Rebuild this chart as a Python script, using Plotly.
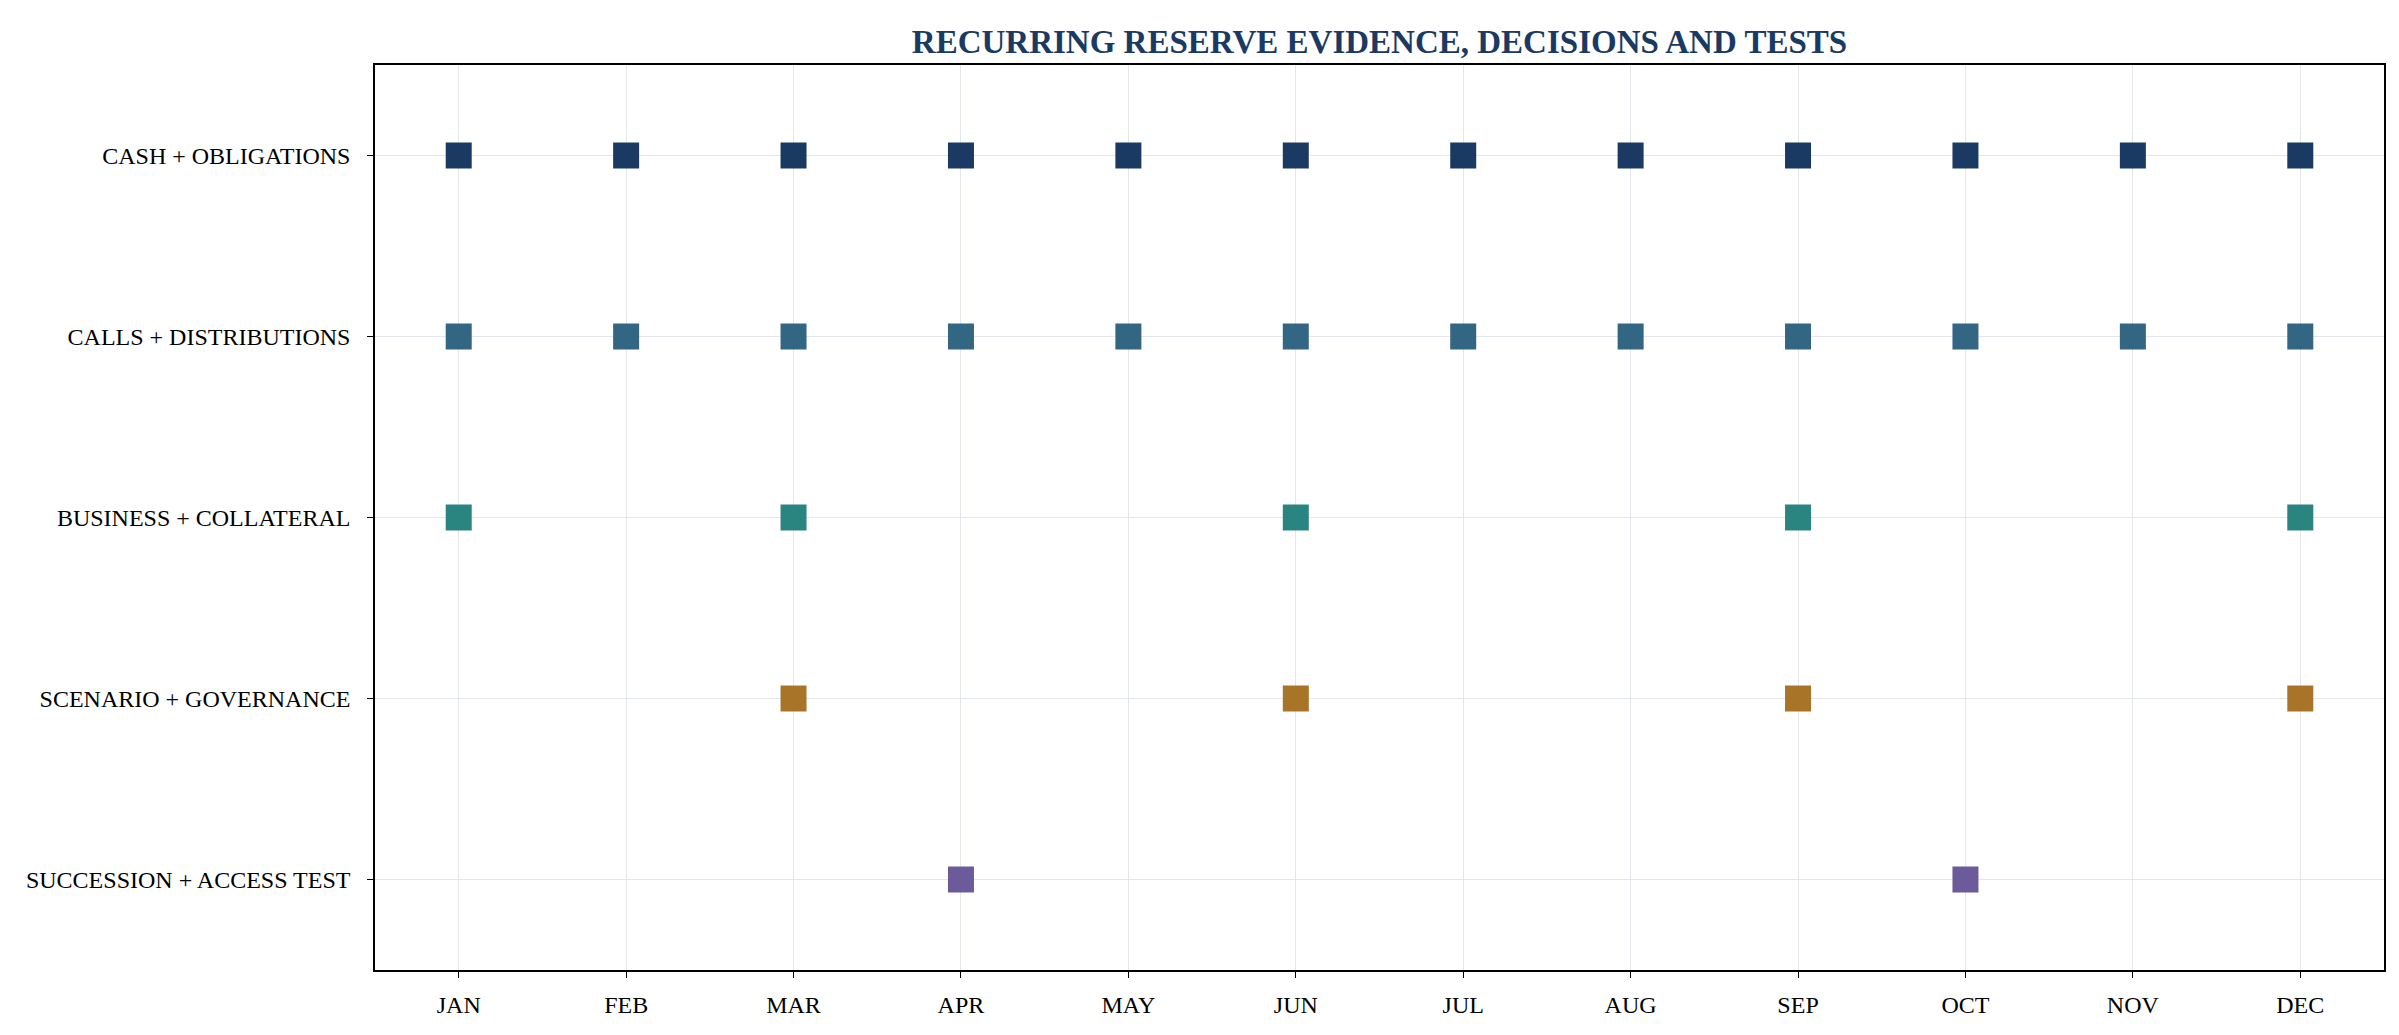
import plotly.graph_objects as go

months = ["JAN", "FEB", "MAR", "APR", "MAY", "JUN", "JUL", "AUG", "SEP", "OCT", "NOV", "DEC"]
rows = ["CASH + OBLIGATIONS", "CALLS + DISTRIBUTIONS", "BUSINESS + COLLATERAL",
        "SCENARIO + GOVERNANCE", "SUCCESSION + ACCESS TEST"]
cash_months = months
calls_months = months
business_months = ["JAN", "MAR", "JUN", "SEP", "DEC"]
scenario_months = ["MAR", "JUN", "SEP", "DEC"]
succession_months = ["APR", "OCT"]
row_months = [cash_months, calls_months, business_months, scenario_months, succession_months]
colors = ["#1b3a63", "#336683", "#2a8580", "#a87428", "#6c5a9a"]

fig = go.Figure()
for i, (name, ms) in enumerate(zip(rows, row_months)):
    fig.add_trace(go.Scatter(
        x=[months.index(m) for m in ms], y=[i] * len(ms), mode="markers", name=name,
        marker=dict(symbol="square", size=26, color=colors[i]), showlegend=False))

fig.update_layout(
    width=2399, height=1035, paper_bgcolor="white", plot_bgcolor="white",
    margin=dict(l=367, r=23, t=57, b=73),
    font=dict(family="Liberation Serif", size=24, color="black"),
    title=dict(text="<b>RECURRING RESERVE EVIDENCE, DECISIONS AND TESTS</b>",
               x=0.5, xref="paper", y=0.968, yanchor="middle",
               font=dict(size=33, color="#1b3a63")),
)
fig.update_xaxes(range=[-0.5, 11.5], tickvals=list(range(12)), ticktext=months,
                 showgrid=True, gridcolor="#e3e6ea", zeroline=False,
                 showline=True, linecolor="black", linewidth=1.5, mirror=True,
                 ticks="outside", ticklen=6, tickcolor="black", ticklabelstandoff=6)
fig.update_yaxes(range=[4.5, -0.5], tickvals=list(range(5)), ticktext=rows,
                 showgrid=True, gridcolor="#e3e6ea", zeroline=False,
                 showline=True, linecolor="black", linewidth=1.5, mirror=True,
                 ticks="outside", ticklen=6, tickcolor="black", ticklabelstandoff=12)

fig.write_html("out.html")
